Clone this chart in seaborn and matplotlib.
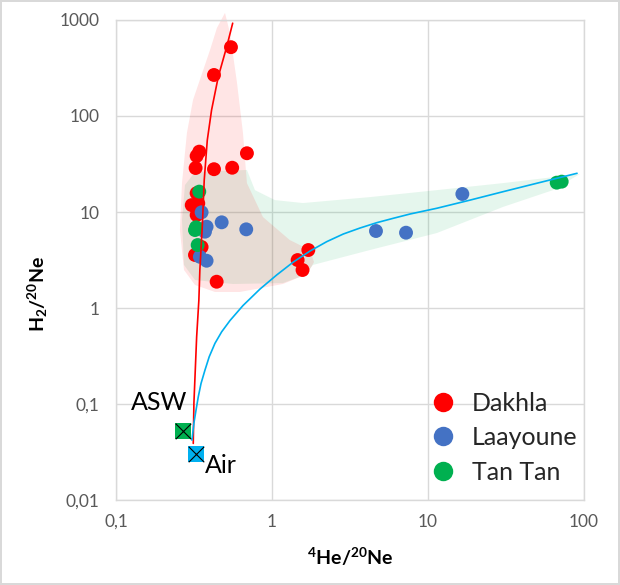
import numpy as np
import pandas as pd
import matplotlib
matplotlib.use("Agg")
import matplotlib.pyplot as plt
import seaborn as sns

# --- data (4He/20Ne, H2/20Ne) ---
dakhla_he = [0.546, 0.425, 0.691, 0.342, 0.329, 0.324, 0.425, 0.556, 0.329, 0.306,
             0.337, 0.329, 0.321, 0.354, 0.442, 1.71, 1.46, 1.57]
dakhla_h2 = [520, 267, 40.9, 42.5, 38.3, 28.7, 27.9, 28.9, 15.7, 11.8,
             12.3, 9.3, 3.57, 4.32, 1.88, 4.02, 3.16, 2.49]

laayoune_he = [0.354, 0.381, 0.372, 0.476, 0.684, 0.345, 0.381, 4.64, 7.23, 16.6]
laayoune_h2 = [9.93, 7.03, 6.24, 7.81, 6.6, 3.42, 3.11, 6.34, 6.09, 15.4]

tantan_he = [0.342, 0.326, 0.321, 0.334, 66.8, 71.9]
tantan_h2 = [16.3, 6.93, 6.49, 4.53, 20.2, 20.7]

air_he, air_h2 = 0.324, 0.0301
asw_he, asw_h2 = 0.270, 0.0527

# mixing curves
red_curve_he = [0.313, 0.316, 0.329, 0.340, 0.345, 0.358, 0.368, 0.385, 0.41, 0.453, 0.513, 0.56]
red_curve_h2 = [0.039, 0.102, 0.50, 1.21, 2.49, 7.32, 21.5, 56, 115, 257, 527, 924]

blue_curve_he = [0.307, 0.316, 0.326, 0.337, 0.351, 0.372, 0.396, 0.431, 0.476, 0.538,
                 0.652, 0.838, 1.072, 1.369, 1.752, 2.242, 2.864, 3.665, 4.69, 5.99,
                 7.67, 11.37, 18.6, 30.4, 49.7, 90.2]
blue_curve_h2 = [0.0422, 0.0634, 0.0866, 0.119, 0.164, 0.226, 0.311, 0.429, 0.566, 0.741,
                 1.062, 1.577, 2.21, 3.01, 3.92, 4.91, 5.90, 6.81, 7.74, 8.60,
                 9.53, 10.93, 13.3, 16.3, 19.9, 25.3]

# shaded envelopes
dakhla_zone_he = [0.500, 0.538, 0.597, 0.652, 0.691, 0.875, 1.30, 1.75, 1.86, 1.68, 1.176,
                  0.623, 0.431, 0.321, 0.273, 0.257, 0.265, 0.285, 0.312, 0.401, 0.444]
dakhla_zone_h2 = [1183, 732, 221, 66.5, 20.0, 8.87, 5.11, 4.02, 3.01, 2.26, 1.78,
                  1.47, 1.47, 1.74, 2.49, 6.49, 20.0, 66.5, 147, 487, 826]

tantan_zone_he = [0.277, 0.321, 0.691, 0.778, 1.045, 1.58, 4.25, 11.4, 30.3, 94.2, 63.3,
                  30.3, 11.4, 4.25, 1.83, 1.63, 1.176, 0.562, 0.321, 0.273, 0.265]
tantan_zone_h2 = [19.1, 26.1, 27.4, 16.9, 13.3, 12.4, 14.3, 16.9, 20.0, 24.9, 16.9,
                  11.3, 6.04, 4.02, 2.81, 2.21, 1.82, 1.78, 1.96, 2.81, 8.25]

x_ticks = [0.1, 1, 10, 100]
x_ticklabels = ["0,1", "1", "10", "100"]
y_ticks = [0.01, 0.1, 1, 10, 100, 1000]
y_ticklabels = ["0,01", "0,1", "1", "10", "100", "1000"]

sites = ["Dakhla", "Laayoune", "Tan Tan"]
palette = {"Dakhla": "#FF0000", "Laayoune": "#4472C4", "Tan Tan": "#00B050"}


def main():
    sns.set_theme(style="white")
    plt.rcParams['font.family'] = ['Lato', 'DejaVu Sans']
    plt.rcParams['mathtext.fontset'] = 'custom'
    plt.rcParams['mathtext.rm'] = 'Lato'
    plt.rcParams['mathtext.bf'] = 'Lato:bold'
    plt.rcParams['mathtext.it'] = 'Lato:italic'

    df = pd.DataFrame({
        'he': dakhla_he + laayoune_he + tantan_he,
        'h2': dakhla_h2 + laayoune_h2 + tantan_h2,
        'site': ['Dakhla'] * len(dakhla_he) + ['Laayoune'] * len(laayoune_he) + ['Tan Tan'] * len(tantan_he),
    })

    fig, ax = plt.subplots(figsize=(6.2, 5.85), dpi=100)
    fig.subplots_adjust(left=0.187, right=0.942, bottom=0.145, top=0.966)
    fig.patch.set_facecolor('white')
    fig.patch.set_edgecolor('#d9d9d9')
    fig.patch.set_linewidth(1.5)

    ax.set_xscale('log')
    ax.set_yscale('log')

    # envelopes
    ax.fill(tantan_zone_he, tantan_zone_h2, color='#00B050', alpha=0.1, lw=0, zorder=1)
    ax.fill(dakhla_zone_he, dakhla_zone_h2, color='#FF0000', alpha=0.1, lw=0, zorder=1, clip_on=False)

    sns.scatterplot(data=df, x='he', y='h2', hue='site', hue_order=sites, palette=palette,
                    s=100, edgecolor='none', linewidth=0, ax=ax, zorder=3, legend=False)

    ax.plot(red_curve_he, red_curve_h2, color='#FF0000', lw=1.2, zorder=4)
    ax.plot(blue_curve_he, blue_curve_h2, color='#00B0F0', lw=1.2, zorder=4)

    # air / ASW end members
    ax.scatter([asw_he], [asw_h2], marker='s', s=125, color='#00B050', zorder=5, linewidths=0)
    ax.scatter([asw_he], [asw_h2], marker='x', s=125, color='black', zorder=6, linewidths=0.8)
    ax.scatter([air_he], [air_h2], marker='s', s=125, color='#00B0F0', zorder=5, linewidths=0)
    ax.scatter([air_he], [air_h2], marker='x', s=125, color='black', zorder=6, linewidths=0.8)
    ax.text(0.285, 0.105, "ASW", fontsize=18, ha='right', va='center', color='black')
    ax.text(0.372, 0.0231, "Air", fontsize=18, ha='left', va='center', color='black')

    ax.set_xlim(0.1, 100)
    ax.set_ylim(0.01, 1000)
    ax.set_xticks(x_ticks)
    ax.set_xticklabels(x_ticklabels)
    ax.set_yticks(y_ticks)
    ax.set_yticklabels(y_ticklabels)
    ax.minorticks_off()
    ax.tick_params(axis='both', length=0, labelsize=12.5, labelcolor='#595959')
    ax.tick_params(axis='x', pad=10)
    ax.tick_params(axis='y', pad=12)

    ax.grid(True, color='#d9d9d9', lw=1)
    ax.set_axisbelow(True)
    for sp in ax.spines.values():
        sp.set_color('#d9d9d9')
        sp.set_linewidth(1)

    ax.set_xlabel(r'$^\mathbf{4}$He/$^\mathbf{20}$Ne', fontsize=14, fontweight='bold', color='black')
    ax.set_ylabel(r'H$_\mathbf{2}$/$^\mathbf{20}$Ne', fontsize=14, fontweight='bold', color='black')
    ax.xaxis.set_label_coords(0.5, -0.094)
    ax.yaxis.set_label_coords(-0.141, 0.43)

    handles = [plt.Line2D([], [], marker='o', ls='none', color=palette[s], markersize=14,
                          markeredgewidth=0) for s in sites]
    ax.legend(handles, sites, loc='upper left', bbox_to_anchor=(0.672, 0.226), frameon=False,
              fontsize=18, borderpad=0, borderaxespad=0, handlelength=1.0,
              handletextpad=0.66, labelspacing=0.46)

    fig.savefig('out.png', dpi=100, facecolor=fig.get_facecolor(), edgecolor=fig.get_edgecolor())


if __name__ == "__main__":
    main()
